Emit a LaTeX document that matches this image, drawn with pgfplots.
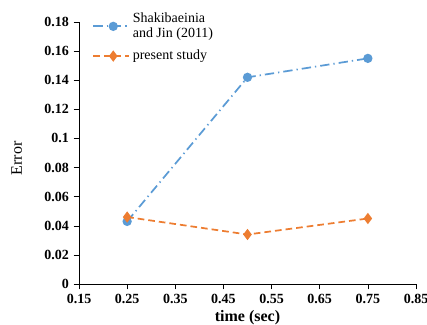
\documentclass[border=0pt]{standalone}
\usepackage{fontspec}
\setmainfont{Liberation Serif}
\usepackage{pgfplots}
\pgfplotsset{compat=1.18}
\definecolor{cblue}{RGB}{91,155,213}
\definecolor{corange}{RGB}{237,125,49}
\begin{document}
\begin{tikzpicture}
\path[use as bounding box] (-59.25pt,-30pt) rectangle (261pt,213pt);
\begin{axis}[
  at={(0,0)}, anchor=south west,
  scale only axis,
  width=252.75pt, height=196.5pt,
  xmin=0.15, xmax=0.85, ymin=0, ymax=0.18,
  xtick={0.15,0.25,...,0.85},
  ytick={0,0.02,...,0.18},
  axis lines*=left,
  tick align=outside,
  major tick length=4pt,
  tick style={black, thin},
  axis line style={black, thin},
  tick label style={font=\fontsize{10.5}{12}\selectfont\bfseries},
  /pgf/number format/assume math mode=true,
  /pgf/number format/fixed,
  /pgf/number format/precision=2,
  xticklabel style={/pgf/number format/fixed zerofill, /pgf/number format/precision=2},
  xlabel={\textbf{time (sec)}},
  ylabel={Error},
  xlabel style={font=\fontsize{12}{14}\selectfont, at={(axis description cs:0.5,-0.13)}, anchor=center},
  ylabel style={font=\fontsize{12}{14}\selectfont, at={(axis description cs:-0.185,0.48)}, anchor=center},
  legend style={draw=none, fill=none, at={(axis description cs:0.035,1.05)}, anchor=north west, font=\fontsize{10.5}{11}\selectfont, cells={align=left}, row sep=4pt, inner sep=1pt},
  legend cell align=left,
  legend image code/.code={\draw[#1] (0pt,0pt) -- (27pt,0pt); \draw[#1, mark repeat=1] plot coordinates {(15pt,0pt)};},
  clip=false,
]
\addplot[cblue, line width=1.3pt, dash pattern=on 7pt off 3pt on 1pt off 3pt, mark=*, mark size=2.8pt, mark options={solid}]
  coordinates {(0.25,0.043) (0.5,0.142) (0.75,0.155)};
\addlegendentry{Shakibaeinia\\and Jin (2011)}
\addplot[corange, line width=1.3pt, dash pattern=on 5pt off 3pt, mark=diamond*, mark size=3.2pt, mark options={solid}]
  coordinates {(0.25,0.046) (0.5,0.034) (0.75,0.045)};
\addlegendentry{present study}
\end{axis}
\end{tikzpicture}
\end{document}
